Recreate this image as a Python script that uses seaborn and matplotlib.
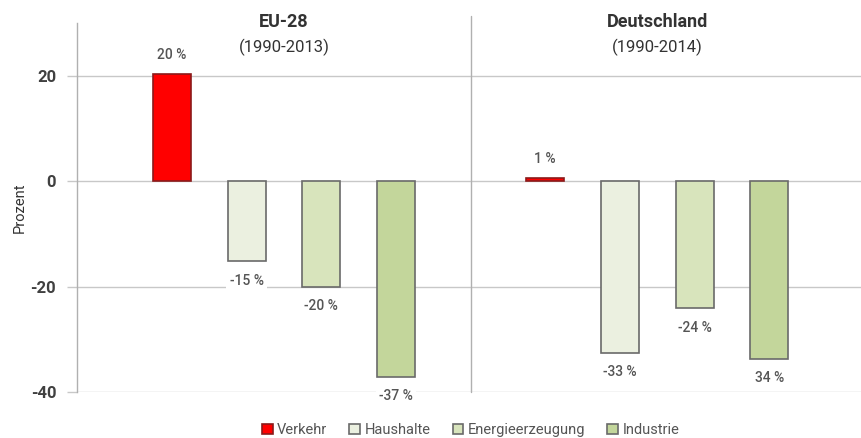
import matplotlib
matplotlib.use("Agg")
import matplotlib.pyplot as plt
import seaborn as sns
import pandas as pd

regions = ["EU-28", "Deutschland"]
periods = ["(1990-2013)", "(1990-2014)"]
sectors = ["Verkehr", "Haushalte", "Energieerzeugung", "Industrie"]
eu_values = [20.3, -15.2, -20.0, -37.1]
de_values = [0.6, -32.6, -24.1, -33.7]
eu_labels = ["20 %", "-15 %", "-20 %", "-37 %"]
de_labels = ["1 %", "-33 %", "-24 %", "34 %"]
colors = ["#ff0000", "#ebf0e0", "#d8e4bc", "#c3d69b"]
edges = ["#8b1a1a", "#6a6a6a", "#6a6a6a", "#6a6a6a"]
yticks = [-40, -20, 0, 20]

df = pd.DataFrame({
    "Region": [regions[0]] * 4 + [regions[1]] * 4,
    "Sektor": sectors * 2,
    "Wert": eu_values + de_values,
    "Label": eu_labels + de_labels,
})

sns.set_style("white")
plt.rcParams["font.family"] = ["Roboto", "DejaVu Sans"]

fig = plt.figure(figsize=(8.62, 4.38), dpi=100)
ax = fig.add_axes([77 / 862, 1 - 392 / 438, 1 - 77 / 862, (392 - 23) / 438])

sns.barplot(data=df, x="Region", y="Wert", hue="Sektor", order=regions,
            hue_order=sectors, palette=colors, saturation=1, width=0.8, gap=0.49,
            linewidth=1.2, ax=ax, legend=True)

for i, cont in enumerate(ax.containers):
    for bar in cont:
        bar.set_edgecolor(edges[i])
        bar.set_zorder(3)

# value labels
for i, cont in enumerate(ax.containers):
    sub = df[df["Sektor"] == sectors[i]].set_index("Region").loc[regions]
    for bar, (_, row) in zip(cont, sub.iterrows()):
        x = bar.get_x() + bar.get_width() / 2
        v = row["Wert"]
        off = 14 if v >= 0 else -14
        ax.annotate(row["Label"], (x, v), xytext=(0, off), textcoords="offset points",
                    ha="center", va="center", fontsize=10, color="#555555",
                    fontweight="medium",
                    bbox=dict(boxstyle="square,pad=0.25", fc="white", ec="none"),
                    zorder=5)

ax.set_ylim(-40, 30)
ax.set_xlim(-0.554, 1.548)
ax.set_yticks(yticks)
ax.set_yticklabels([str(t) for t in yticks], fontsize=12, fontweight="bold", color="#404040")
ax.set_xticks([])
ax.set_xlabel("")
ax.set_ylabel("Prozent", fontsize=10.5, color="#333333")
ax.yaxis.set_label_coords(-0.064, 0.5)
ax.tick_params(axis="y", length=7, width=1, color="#c8c8c8", pad=8, left=True)
for y in yticks:
    ax.axhline(y, color="#c8c8c8", lw=1, zorder=1)
ax.axvline(0.5, color="#b0b0b0", lw=1, zorder=1, ymax=1.02, clip_on=False)
for s in ["top", "right", "bottom"]:
    ax.spines[s].set_visible(False)
ax.spines["left"].set_color("#b0b0b0")
ax.spines["left"].set_linewidth(1)

# titles
for i, (r, p) in enumerate(zip(regions, periods)):
    ax.annotate(r, (i, 1 - 22 / 438), xycoords=("data", "figure fraction"),
                ha="center", va="center", fontsize=13, fontweight="bold", color="#333333")
    ax.annotate(p, (i, 1 - 47 / 438), xycoords=("data", "figure fraction"),
                ha="center", va="center", fontsize=12, color="#333333")

handles, labels = ax.get_legend_handles_labels()
ax.get_legend().remove()
for h, e in zip(handles, edges):
    h.set_edgecolor(e)
fig.legend(handles, labels, loc="center", bbox_to_anchor=(0.546, 0.018), ncol=4,
           frameon=False, fontsize=10.5, handlelength=0.75, handleheight=0.75,
           handletextpad=0.3, columnspacing=1.5, labelcolor="#555555")

fig.savefig("out.png", dpi=100)
